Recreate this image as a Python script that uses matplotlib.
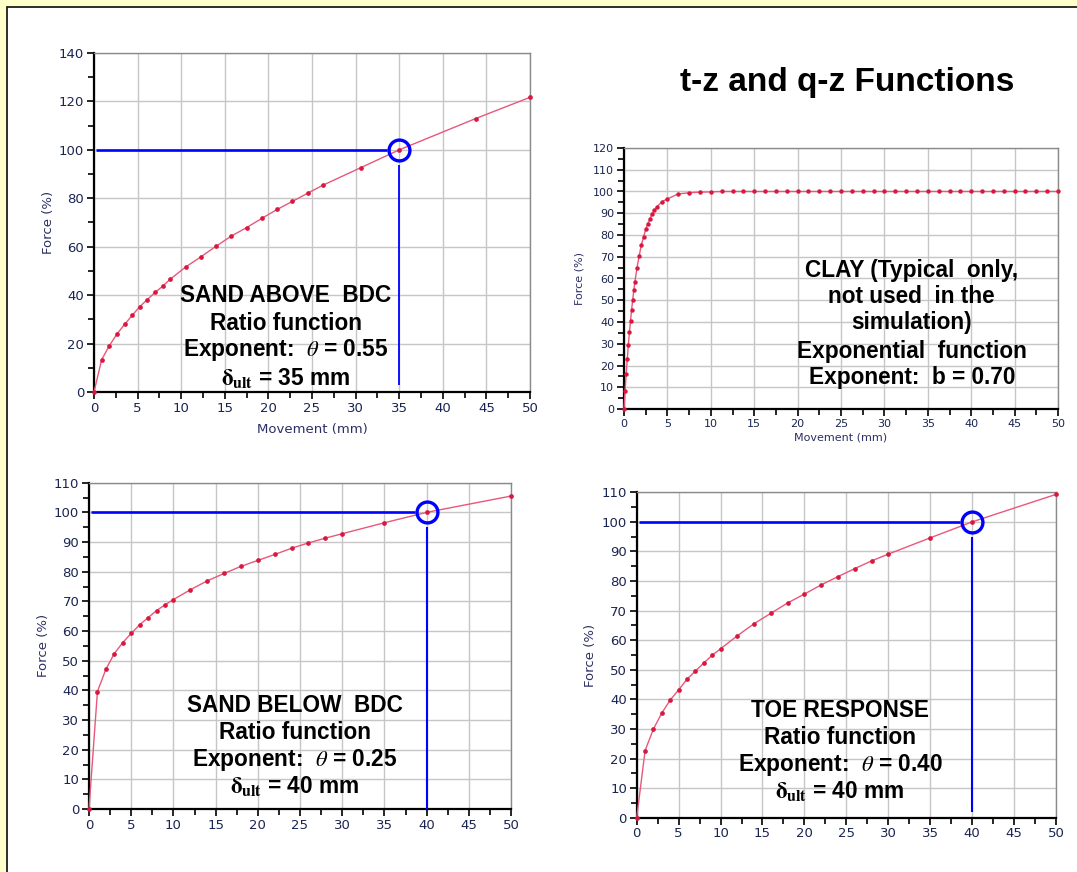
import matplotlib
matplotlib.use("Agg")
import matplotlib.pyplot as plt
from matplotlib.ticker import MultipleLocator
from matplotlib.patches import Rectangle

# ---------------- data ----------------
sand_above_x = [0, 0.875, 1.75, 2.625, 3.5, 4.375, 5.25, 6.125, 7.0, 7.875, 8.75,
                10.5, 12.25, 14.0, 15.75, 17.5, 19.25, 21.0, 22.75, 24.5, 26.25,
                30.625, 35.0, 43.75, 50.0]
sand_above_y = [0, 13.3, 19.1, 23.9, 27.9, 31.6, 35.3, 38.2, 41.1, 43.7, 46.6,
                51.6, 55.8, 60.2, 64.4, 67.9, 71.7, 75.4, 78.7, 82.1, 85.4,
                92.7, 100.0, 112.9, 121.7]

clay_x = [0, 0.125, 0.25, 0.375, 0.5, 0.625, 0.75, 0.875, 1.0, 1.125, 1.25,
          1.5, 1.75, 2.0, 2.25, 2.5, 2.75, 3.0, 3.25, 3.5, 3.75, 4.375, 5.0,
          6.25, 7.5, 8.75, 10.0, 11.25, 12.5, 13.75, 15.0, 16.25, 17.5, 18.75,
          20.0, 21.25, 22.5, 23.75, 25.0, 26.25, 27.5, 28.75, 30.0, 31.25,
          32.5, 33.75, 35.0, 36.25, 37.5, 38.75, 40.0, 41.25, 42.5, 43.75,
          45.0, 46.25, 47.5, 48.75, 50.0]
clay_y = [0, 8.4, 16.0, 22.9, 29.5, 35.3, 40.6, 45.6, 50.1, 54.5, 58.3,
          65.0, 70.5, 75.4, 79.1, 82.6, 85.2, 87.5, 89.8, 91.3, 92.8, 95.3, 96.6,
          98.9, 99.4, 99.7, 99.8, 100.0, 100.0, 100.0, 100.0, 100.0, 100.0, 100.0,
          100.0, 100.0, 100.0, 100.0, 100.0, 100.0, 100.0, 100.0, 100.0, 100.0,
          100.0, 100.0, 100.0, 100.0, 100.0, 100.0, 100.0, 100.0, 100.0, 100.0,
          100.0, 100.0, 100.0, 100.0, 100.0]

sand_below_x = [0, 1, 2, 3, 4, 5, 6, 7, 8, 9, 10, 12, 14, 16, 18, 20, 22, 24,
                26, 28, 30, 35, 40, 50]
sand_below_y = [0, 39.6, 47.1, 52.4, 56.1, 59.2, 62.1, 64.5, 66.9, 68.8, 70.6,
                73.9, 76.9, 79.4, 81.8, 83.8, 85.8, 87.9, 89.7, 91.3, 92.8,
                96.5, 100.0, 105.5]

toe_x = [0, 1, 2, 3, 4, 5, 6, 7, 8, 9, 10, 12, 14, 16, 18, 20, 22, 24,
         26, 28, 30, 35, 40, 50]
toe_y = [0, 22.7, 30.0, 35.4, 39.8, 43.2, 46.8, 49.6, 52.3, 54.9, 57.1,
         61.5, 65.6, 69.1, 72.6, 75.6, 78.7, 81.5, 84.2, 86.8, 89.1,
         94.6, 100.0, 109.3]

ultimate_force = 100.0
delta_ult = {"above": 35.0, "below": 40.0, "toe": 40.0}

label_above = ["SAND ABOVE  BDC", "Ratio function",
               r"Exponent:  $\theta$ = 0.55", r"$\mathbf{\delta}_{\mathbf{ult}}$ = 35 mm"]
label_clay = ["CLAY (Typical  only,", "not used  in the", "simulation)",
              "Exponential  function", "Exponent:  b = 0.70"]
label_below = ["SAND BELOW  BDC", "Ratio function",
               r"Exponent:  $\theta$ = 0.25", r"$\mathbf{\delta}_{\mathbf{ult}}$ = 40 mm"]
label_toe = ["TOE RESPONSE", "Ratio function",
             r"Exponent:  $\theta$ = 0.40", r"$\mathbf{\delta}_{\mathbf{ult}}$ = 40 mm"]

# ---------------- style ----------------
plt.rcParams["mathtext.fontset"] = "stix"
W, H = 1077, 872
TICK_COLOR = "#1a2450"
LABEL_COLOR = "#2b2f63"
CURVE_LINE = "#E8587A"
CURVE_DOT = "#D7193F"
BLUE = "#0000FF"

fig = plt.figure(figsize=(W / 100, H / 100), dpi=100, facecolor="#FFFFCA")
fig.patches.append(Rectangle((7 / W, -0.1), 1.2, 1.1 - 7 / H,
                             transform=fig.transFigure, facecolor="white",
                             edgecolor="#1e1e1e", lw=1.3, zorder=-5))


def px_rect(x0, x1, y_top, y_bot):
    return [x0 / W, 1 - y_bot / H, (x1 - x0) / W, (y_bot - y_top) / H]


def make_axes(rect, ymax, ymajor, yminor, fs):
    ax = fig.add_axes(rect)
    ax.set_facecolor("white")
    ax.set_xlim(0, 50)
    ax.set_ylim(0, ymax)
    ax.xaxis.set_major_locator(MultipleLocator(5))
    ax.xaxis.set_minor_locator(MultipleLocator(2.5))
    ax.yaxis.set_major_locator(MultipleLocator(ymajor))
    ax.yaxis.set_minor_locator(MultipleLocator(yminor))
    ax.grid(True, which="major", color="#c6c6c6", lw=1.0)
    ax.set_axisbelow(True)
    for s in ("top", "right"):
        ax.spines[s].set_color("#8a8a8a")
        ax.spines[s].set_linewidth(1.0)
    for s in ("left", "bottom"):
        ax.spines[s].set_color("black")
        ax.spines[s].set_linewidth(1.6)
    ax.tick_params(which="both", direction="out", color="black", width=1.2,
                   labelsize=fs, labelcolor=TICK_COLOR, pad=2)
    ax.tick_params(which="major", length=5)
    ax.tick_params(which="minor", length=4)
    for lab in ax.get_xticklabels() + ax.get_yticklabels():
        lab.set_family("DejaVu Sans")
    return ax


def draw_curve(ax, x, y, ms=3.4):
    ax.plot(x, y, "-", color=CURVE_LINE, lw=1.0, zorder=3, clip_on=False)
    ax.plot(x, y, "o", ms=ms, color=CURVE_DOT, mec="none", zorder=4, clip_on=False)


def mark_ultimate(ax, d, ybottom, lw_v):
    ppx = ax.bbox.width / 50.0
    ppy = ax.bbox.height / ax.get_ylim()[1]
    ax.plot([0.25, d - 12 / ppx], [ultimate_force, ultimate_force],
            color=BLUE, lw=1.9, zorder=5, solid_capstyle="butt")
    ax.plot([d, d], [ultimate_force - 15 / ppy, ybottom],
            color=BLUE, lw=lw_v, zorder=5, solid_capstyle="butt")
    ax.plot([d], [ultimate_force], "o", ms=15, mfc="none", mec=BLUE,
            mew=2.4, zorder=6)


def annotate(ax, lines, xc, baselines, fs=16.3):
    for s, yb in zip(lines, baselines):
        ax.text(xc, yb, s, transform=ax.transAxes, ha="center", va="baseline",
                fontsize=fs, fontweight="bold", family="Liberation Sans",
                color="black", zorder=7)


# ---- Sand above BDC ----
ax1 = make_axes(px_rect(94, 530, 53, 392), 140, 20, 10, 9.5)
draw_curve(ax1, sand_above_x, sand_above_y)
mark_ultimate(ax1, delta_ult["above"], 3.0, 1.3)
ax1.set_ylabel("Force (%)", fontsize=9.5, color=LABEL_COLOR, labelpad=3)
ax1.set_xlabel("Movement (mm)", fontsize=9.5, color=LABEL_COLOR, labelpad=6)
annotate(ax1, label_above, 0.44, [0.266, 0.183, 0.106, 0.021])

# ---- Clay ----
ax2 = make_axes(px_rect(624, 1058, 148, 409), 120, 10, 5, 8)
draw_curve(ax2, clay_x, clay_y, ms=3.2)
ax2.set_ylabel("Force (%)", fontsize=8, color=LABEL_COLOR, labelpad=6)
ax2.set_xlabel("Movement (mm)", fontsize=8, color=LABEL_COLOR, labelpad=3)
annotate(ax2, label_clay, 0.663, [0.507, 0.407, 0.305, 0.194, 0.095])

# ---- Sand below BDC ----
ax3 = make_axes(px_rect(89, 511, 482.7, 809), 110, 10, 5, 9.5)
draw_curve(ax3, sand_below_x, sand_below_y)
mark_ultimate(ax3, delta_ult["below"], 0.0, 1.5)
ax3.set_ylabel("Force (%)", fontsize=9.5, color=LABEL_COLOR, labelpad=3)
annotate(ax3, label_below, 0.488, [0.298, 0.215, 0.133, 0.048])

# ---- Toe response ----
ax4 = make_axes(px_rect(636.7, 1056, 492.3, 817.7), 110, 10, 5, 9.5)
draw_curve(ax4, toe_x, toe_y)
mark_ultimate(ax4, delta_ult["toe"], 2.0, 1.5)
ax4.set_ylabel("Force (%)", fontsize=9.5, color=LABEL_COLOR, labelpad=3)
annotate(ax4, label_toe, 0.485, [0.310, 0.226, 0.1435, 0.0596])

fig.text(847 / W, 1 - 83 / H, "t-z and q-z Functions", ha="center", va="center",
         fontsize=24, fontweight="bold", family="Liberation Sans")

fig.savefig("out.png", dpi=100, facecolor=fig.get_facecolor())
